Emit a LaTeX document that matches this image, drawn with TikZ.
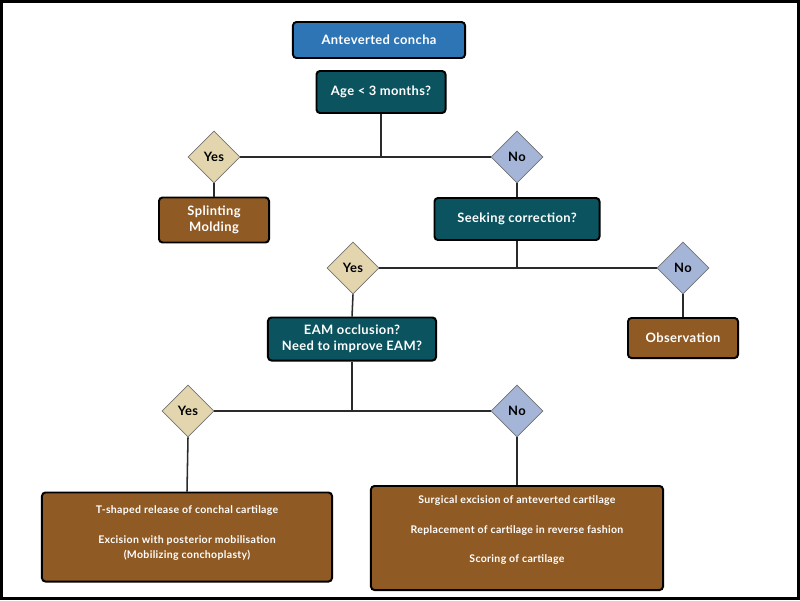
\documentclass[tikz,border=0pt]{standalone}
\usepackage{fontspec}
\setmainfont{Lato}[LetterSpace=3]
\usepackage{tikz}
\usetikzlibrary{shapes.geometric, arrows.meta, positioning, calc}
\usepackage{xcolor}
\definecolor{conchablue}{HTML}{2E75B6}
\definecolor{deepteal}{HTML}{0B535E}
\definecolor{bronze}{HTML}{8F5A24}
\definecolor{sand}{HTML}{E3D6AF}
\definecolor{periwinkle}{HTML}{A4B5D7}
\definecolor{inkline}{HTML}{2A2A2A}

\tikzset{
    startbox/.style={draw=black, line width=1.4pt, rounded corners=2.5pt, fill=conchablue, text=white,
        font=\fontsize{9.2}{11}\selectfont\bfseries, align=center, inner sep=0pt},
    askbox/.style={startbox, fill=deepteal},
    treatbox/.style={startbox, fill=bronze},
    yesmark/.style={diamond, draw=black!55, line width=0.5pt, fill=sand, minimum width=1.3cm, minimum height=1.3cm,
        inner sep=0pt, font=\fontsize{9.2}{11}\selectfont\bfseries, text=black},
    nomark/.style={yesmark, fill=periwinkle},
    link/.style={draw=inkline, line width=1.1pt}
}

\begin{document}
\begin{tikzpicture}[x=0.025cm, y=-0.025cm]
                \useasboundingbox (0,0) rectangle (800,600);
                \draw[black, line width=2.2pt] (1.5,1.5) rectangle (798.5,598.5);

                % 1. Top question
                \node[startbox, minimum width=4.3cm, minimum height=0.9cm] (concha) at (379,40) {Anteverted concha};
                \node[askbox, minimum width=3.225cm, minimum height=1.05cm] (age) at (381,92) {Age < 3 months?};
                \node[yesmark] (ageyes) at (214,157) {Yes};
                \node[nomark] (ageno) at (517,157) {No};
                \draw[link] (ageyes.east) -- (ageno.west);
                \draw[link] (age.south) -- (age.south |- ageyes.east);

                % 2. Young infants and correction wish
                \node[treatbox, minimum width=2.75cm, minimum height=1.125cm] (splint) at (214,220) {Splinting\\Molding};
                \draw[link] (ageyes.south) -- (splint.north);
                \node[askbox, minimum width=4.125cm, minimum height=1.05cm] (seek) at (517,219) {Seeking correction?};
                \draw[link] (ageno.south) -- (seek.north);
                \node[yesmark] (seekyes) at (353,268) {Yes};
                \node[nomark] (seekno) at (683,268) {No};
                \draw[link] (seekyes.east) -- (seekno.west);
                \draw[link] (seek.south) -- (seek.south |- seekyes.east);
                \node[treatbox, minimum width=2.75cm, minimum height=1cm] (observe) at (683,338) {Observation};
                \draw[link] (seekno.south) -- (observe.north);

                % 3. EAM question
                \node[askbox, minimum width=4.2cm, minimum height=1.075cm] (eam) at (352,339) {EAM occlusion?\\Need to improve EAM?};
                \draw[link] (seekyes.south) -- (eam.north);
                \node[yesmark] (eamyes) at (188,411) {Yes};
                \node[nomark] (eamno) at (517,411) {No};
                \draw[link] (eamyes.east) -- (eamno.west);
                \draw[link] (eam.south) -- (eam.south |- eamyes.east);

                % 4. Surgical options
                \node[treatbox, minimum width=7.25cm, minimum height=2.225cm, font=\fontsize{7.5}{10.6}\selectfont\bfseries] (conchal) at (187,537)
                    {T-shaped release of conchal cartilage\\[10.4pt]Excision with posterior mobilisation\\(Mobilizing conchoplasty)\\[-3.5pt]};
                \draw[link] (eamyes.south) -- (conchal.north);
                \node[treatbox, minimum width=7.3cm, minimum height=2.6cm, font=\fontsize{7.5}{10.6}\selectfont\bfseries] (reverse) at (517,538)
                    {Surgical excision of anteverted cartilage\\[10.4pt]Replacement of cartilage in reverse fashion\\[10.4pt]Scoring of cartilage\\[2pt]};
                \draw[link] (eamno.south) -- (reverse.north);
            \end{tikzpicture}
\end{document}
